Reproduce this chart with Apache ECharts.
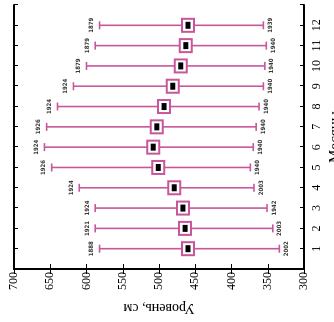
<!DOCTYPE html>
<html>
<head>
<meta charset="utf-8">
<script src="https://cdn.jsdelivr.net/npm/echarts@6/dist/echarts.min.js"></script>
<style>
  html, body { margin: 0; padding: 0; background: #fff; overflow: hidden; }
  .page { position: relative; width: 334px; height: 322px; overflow: hidden; }
  /* the scanned figure is turned a quarter turn counter-clockwise */
  #chart {
    position: absolute;
    left: 6px;
    top: -6px;
    width: 322px;
    height: 334px;
    transform: rotate(-90deg);
    transform-origin: 50% 50%;
  }
</style>
</head>
<body>
<div class="page"><div id="chart"></div></div>
<script>
const months = [1, 2, 3, 4, 5, 6, 7, 8, 9, 10, 11, 12]
const maxLevel = [582, 588, 588, 610, 648, 658, 655, 640, 618, 600, 588, 582]
const minLevel = [334, 343, 351, 369, 374, 370, 366, 362, 356, 354, 352, 356]
const meanLevel = [460, 464, 467, 479, 501, 508, 503, 493, 481, 470, 463, 460]
const maxYears = ['1888', '1921', '1924', '1924', '1926', '1924', '1926', '1924', '1924', '1879', '1879', '1879']
const minYears = ['2002', '2003', '1942', '2003', '1940', '1940', '1940', '1940', '1940', '1940', '1940', '1939']

const pink = '#c9559a'
const serif = "'Liberation Serif', 'DejaVu Serif', serif"
const yearFont = "bold 6px 'Liberation Sans Narrow', 'DejaVu Sans Condensed', sans-serif"

const chart = echarts.init(document.getElementById('chart'))

const monthAxis = {
  type: 'value',
  min: 0,
  max: 13,
  interval: 1,
  splitLine: { show: false },
  axisLine: { lineStyle: { color: '#000', width: 2 } },
  axisTick: { inside: true, length: 4, lineStyle: { color: '#000' } }
}
const levelAxis = {
  type: 'value',
  min: 300,
  max: 700,
  interval: 50,
  splitLine: { show: false },
  axisLine: { lineStyle: { color: '#000', width: 2 } },
  axisTick: { inside: true, length: 5, lineStyle: { color: '#000' } }
}

const whiskers = (params, api) => {
  const i = api.value(3)
  const x = api.value(0)
  const lo = api.coord([x, api.value(1)])
  const hi = api.coord([x, api.value(2)])
  const style = { stroke: pink, lineWidth: 1.6 }
  const cap = 4
  return {
    type: 'group',
    children: [
      { type: 'line', shape: { x1: lo[0], y1: lo[1], x2: hi[0], y2: hi[1] }, style },
      { type: 'line', shape: { x1: lo[0] - cap, y1: lo[1], x2: lo[0] + cap, y2: lo[1] }, style },
      { type: 'line', shape: { x1: hi[0] - cap, y1: hi[1], x2: hi[0] + cap, y2: hi[1] }, style },
      { type: 'text', style: { text: maxYears[i], x: hi[0], y: hi[1] - 5, align: 'center', verticalAlign: 'bottom', font: yearFont, fill: '#333' } },
      { type: 'text', style: { text: minYears[i], x: lo[0], y: lo[1] + 4, align: 'center', verticalAlign: 'top', font: yearFont, fill: '#333' } }
    ]
  }
}

const boxes = (params, api) => {
  const p = api.coord([api.value(0), api.value(1)])
  return {
    type: 'group',
    children: [
      { type: 'rect', shape: { x: p[0] - 6.5, y: p[1] - 6, width: 13, height: 12 }, style: { fill: '#fff', stroke: pink, lineWidth: 2 } },
      { type: 'rect', shape: { x: p[0] - 3.5, y: p[1] - 2.5, width: 7, height: 5 }, style: { fill: '#000' } }
    ]
  }
}

chart.setOption({
  animation: false,
  grid: { left: 53, right: 5, top: 14, bottom: 30, outerBoundsMode: 'none' },
  xAxis: [
    Object.assign({}, monthAxis, {
      position: 'bottom',
      name: 'Месяцы',
      nameLocation: 'middle',
      nameGap: 19,
      nameTextStyle: { fontFamily: serif, fontSize: 15, color: '#000' },
      axisLabel: {
        margin: 7,
        fontFamily: serif,
        fontSize: 12,
        color: '#000',
        formatter: v => (v >= 1 && v <= 12 ? String(v) : '')
      }
    }),
    Object.assign({}, monthAxis, { position: 'top', axisLabel: { show: false } })
  ],
  yAxis: [
    Object.assign({}, levelAxis, {
      position: 'left',
      name: 'Уровень, см',
      nameLocation: 'middle',
      nameRotate: 90,
      nameGap: 27,
      nameTextStyle: { fontFamily: serif, fontSize: 14, color: '#000' },
      axisLabel: { margin: 3, fontFamily: serif, fontSize: 12, color: '#000' }
    }),
    Object.assign({}, levelAxis, { position: 'right', axisLabel: { show: false } })
  ],
  series: [
    {
      type: 'custom',
      renderItem: whiskers,
      data: months.map((m, i) => [m, minLevel[i], maxLevel[i], i]),
      encode: { x: 0, y: [1, 2] },
      z: 2
    },
    {
      type: 'custom',
      renderItem: boxes,
      data: months.map((m, i) => [m, meanLevel[i]]),
      encode: { x: 0, y: 1 },
      z: 3
    }
  ]
})
</script>
</body>
</html>
